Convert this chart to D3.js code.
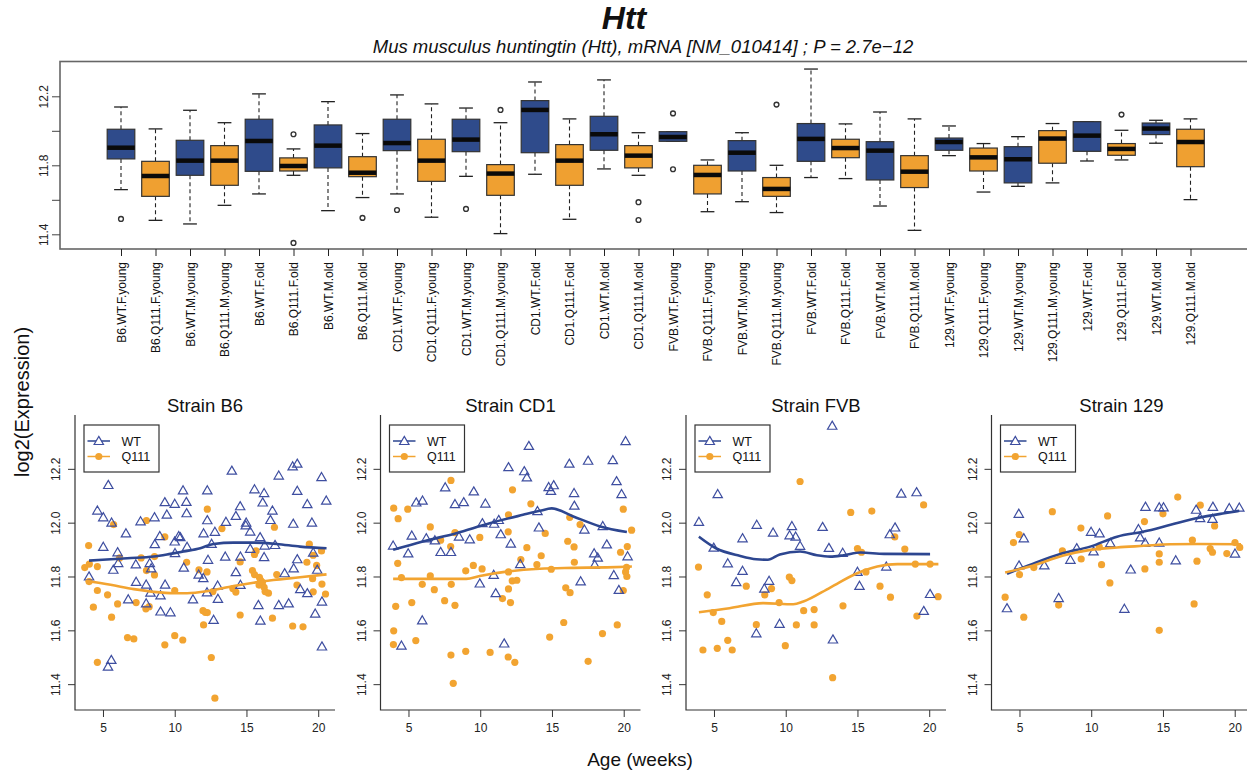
<!DOCTYPE html>
<html>
<head>
<meta charset="utf-8">
<script src="https://cdn.jsdelivr.net/npm/d3@7"></script>
<style>
  body { margin: 0; background: #fff; }
  svg { display: block; font-family: "Liberation Sans", Arial, Helvetica, sans-serif; }
</style>
</head>
<body>
<svg id="chart" width="1247" height="777"></svg>
<script>
// ---------- Box plot groups (strain.genotype.sex.age) ----------
const groups = [
  "B6.WT.F.young","B6.Q111.F.young","B6.WT.M.young","B6.Q111.M.young",
  "B6.WT.F.old","B6.Q111.F.old","B6.WT.M.old","B6.Q111.M.old",
  "CD1.WT.F.young","CD1.Q111.F.young","CD1.WT.M.young","CD1.Q111.M.young",
  "CD1.WT.F.old","CD1.Q111.F.old","CD1.WT.M.old","CD1.Q111.M.old",
  "FVB.WT.F.young","FVB.Q111.F.young","FVB.WT.M.young","FVB.Q111.M.young",
  "FVB.WT.F.old","FVB.Q111.F.old","FVB.WT.M.old","FVB.Q111.M.old",
  "129.WT.F.young","129.Q111.F.young","129.WT.M.young","129.Q111.M.young",
  "129.WT.F.old","129.Q111.F.old","129.WT.M.old","129.Q111.M.old"
];
const boxHigh = [12.138,12.011,12.119,12.047,12.214,11.895,12.169,11.984,
                 12.208,12.156,12.132,12.047,12.283,12.069,12.295,11.989,
                 11.995,11.831,11.989,11.800,12.358,12.040,12.109,12.069,
                 12.028,11.926,11.966,12.042,12.053,12.003,12.061,12.069];
const boxQ3   = [12.009,11.823,11.945,11.914,12.067,11.843,12.034,11.850,
                 12.067,11.951,12.067,11.804,12.175,11.920,12.084,11.914,
                 11.995,11.800,11.943,11.729,12.042,11.951,11.937,11.856,
                 11.958,11.900,11.908,12.001,12.053,11.926,12.045,12.009];
const boxMed  = [11.902,11.738,11.827,11.827,11.941,11.796,11.914,11.757,
                 11.929,11.827,11.949,11.752,12.121,11.827,11.980,11.856,
                 11.964,11.744,11.873,11.663,11.953,11.900,11.885,11.763,
                 11.935,11.846,11.835,11.955,11.972,11.895,12.013,11.935];
const boxQ1   = [11.837,11.620,11.742,11.684,11.765,11.767,11.785,11.734,
                 11.885,11.707,11.879,11.626,11.873,11.684,11.887,11.785,
                 11.939,11.634,11.767,11.620,11.823,11.844,11.715,11.671,
                 11.887,11.767,11.698,11.812,11.881,11.858,11.978,11.792];
const boxLow  = [11.659,11.481,11.460,11.568,11.634,11.742,11.537,11.613,
                 11.634,11.499,11.736,11.404,11.748,11.487,11.779,11.742,
                 11.939,11.531,11.589,11.526,11.729,11.723,11.564,11.423,
                 11.856,11.645,11.678,11.698,11.825,11.831,11.928,11.601];
const boxOut  = [[11.489],[],[],[],[],[11.980,11.350],[],[11.495],
                 [11.541],[],[11.547],[12.121],[],[],[],[11.586,11.483],
                 [12.101,11.777],[],[],[12.152],[],[],[],[],
                 [],[],[],[],[],[12.094],[],[]];

// ---------- Expression vs age, one panel per strain: [age (weeks), log2 expression] ----------
const strains = ["B6", "CD1", "FVB", "129"];

const b6WT = [[5.37,12.14],[4.61,12.045],[5.02,12.02],[5.60,12.00],[5.02,11.91],[4.03,11.80],[6.02,11.89],
  [5.72,11.825],[6.06,11.85],[6.60,11.96],[5.58,11.49],[5.35,11.465],[6.76,11.715],[7.31,11.78],[7.29,11.845],
  [7.62,12.005],[8.01,11.77],[8.01,11.70],[8.31,11.74],[8.26,11.85],[8.36,11.83],[8.61,11.92],[8.59,12.02],
  [8.96,11.95],[9.01,11.67],[9.31,12.076],[9.45,12.03],[9.33,11.77],[10.0,12.07],[10.0,11.93],[10.02,11.887],
  [10.28,11.95],[10.39,11.946],[10.58,12.12],[10.81,12.077],[10.83,12.035],[10.86,11.91],[10.63,11.833],
  [9.70,11.667],[9.01,11.73],[11.27,11.715],[11.67,11.807],[11.99,11.794],[12.01,11.96],[12.27,12.12],
  [12.27,12.009],[12.32,11.862],[12.25,11.741],[12.80,11.966],[12.57,11.921],[12.71,11.639],[12.99,11.766],
  [13.01,11.717],[13.57,12.003],[13.52,11.874],[13.98,12.193],[14.26,12.025],[14.56,12.061],[14.58,11.874],
  [14.26,11.816],[14.58,11.769],[14.98,12.00],[14.95,11.99],[15.26,11.967],[15.26,11.903],[15.56,12.124],
  [15.95,11.946],[16.13,12.075],[16.23,12.11],[16.27,11.915],[16.23,11.872],[15.83,11.694],[15.97,11.636],
  [16.67,12.01],[16.81,12.045],[16.99,11.917],[17.25,12.175],[17.25,11.694],[17.66,11.812],[17.94,11.70],
  [18.22,12.209],[18.54,12.219],[18.26,11.996],[18.54,12.118],[18.54,11.864],[18.29,11.83],[18.75,11.753],
  [19.24,12.069],[19.24,11.738],[19.56,12.00],[19.65,11.889],[19.79,11.662],[20.23,12.169],[20.56,12.082],
  [19.93,11.825],[20.26,11.707],[20.26,11.54]];
const b6Q111 = [[4.0,11.915],[3.73,11.833],[4.05,11.846],[4.03,11.781],[4.61,11.748],[4.61,11.837],[4.33,11.686],
  [5.32,11.732],[5.60,11.649],[6.02,11.698],[4.61,11.481],[5.74,11.993],[6.16,11.869],[6.71,11.573],[7.15,11.568],
  [7.31,11.703],[7.66,11.869],[8.03,12.008],[8.03,11.822],[8.59,11.874],[8.59,11.806],[7.99,11.68],[8.22,11.688],
  [9.31,11.947],[9.31,11.546],[10.0,11.748],[10.0,11.58],[10.56,11.564],[10.83,11.853],[11.69,11.825],
  [12.27,12.05],[12.25,11.817],[11.97,11.673],[12.13,11.667],[12.01,11.62],[12.27,11.666],[12.55,11.499],
  [12.8,11.348],[12.66,11.744],[13.29,11.978],[14.26,11.742],[14.05,11.755],[14.56,11.854],[14.56,11.657],
  [15.42,11.822],[15.56,11.882],[15.67,11.895],[15.56,11.807],[15.90,11.797],[15.97,11.787],[16.11,11.778],
  [15.88,11.768],[16.23,11.76],[16.30,11.744],[16.53,11.738],[16.04,11.781],[16.95,11.983],[17.11,11.807],
  [16.81,11.645],[18.22,11.616],[18.52,11.768],[18.94,11.613],[19.21,11.853],[19.38,11.92],[19.65,11.879],
  [19.89,11.841],[20.23,11.895],[19.65,11.743],[19.61,11.792],[20.26,11.772],[20.51,11.735]];

const cd1WT = [[3.93,11.915],[4.51,11.543],[4.98,11.886],[5.23,11.952],[5.54,12.075],[5.98,12.082],[5.96,11.637],
  [6.24,11.942],[6.84,11.934],[7.24,11.891],[7.96,11.891],[7.56,12.131],[8.24,12.069],[8.52,11.948],[8.85,12.076],
  [9.27,11.938],[9.55,12.116],[9.97,11.774],[10.15,11.998],[10.36,12.071],[10.97,11.996],[10.94,11.806],
  [11.08,11.738],[11.29,12.01],[11.43,11.957],[11.67,11.551],[11.97,12.206],[12.13,11.922],[12.79,11.846],
  [13.07,12.191],[13.25,12.168],[13.39,12.285],[13.99,12.043],[14.09,11.982],[14.77,12.132],[14.93,12.118],
  [15.12,12.139],[16.21,12.219],[16.54,12.11],[16.56,12.063],[17.0,11.782],[17.26,11.974],[17.52,12.23],
  [17.94,11.886],[18.19,11.87],[17.98,11.843],[18.54,11.987],[18.82,11.919],[19.24,12.232],[19.50,12.154],
  [19.85,12.106],[19.31,11.805],[19.66,11.75],[20.13,12.303],[20.27,11.875]];
const cd1Q111 = [[3.97,12.054],[4.28,12.015],[4.25,11.849],[3.97,11.598],[3.95,11.547],[4.11,11.689],[4.51,11.796],
  [4.95,12.05],[5.23,11.703],[5.51,11.562],[5.96,11.771],[6.52,11.984],[6.52,11.802],[6.80,11.751],[7.24,11.935],
  [7.52,11.71],[7.96,12.157],[7.94,11.911],[7.98,11.771],[8.24,11.963],[8.24,11.693],[7.96,11.508],[8.12,11.403],
  [8.99,11.821],[8.99,11.522],[9.52,11.841],[9.97,11.945],[10.13,11.828],[10.69,11.518],[11.55,11.718],
  [11.97,12.029],[11.95,11.966],[11.97,11.817],[11.97,11.754],[12.11,11.703],[12.23,11.784],[12.55,11.786],
  [12.25,12.122],[11.95,11.501],[12.41,11.481],[12.83,11.863],[13.25,11.907],[13.53,12.07],[13.95,11.844],
  [14.25,11.877],[14.53,11.96],[14.84,11.575],[14.95,11.827],[15.82,11.629],[15.96,11.758],[16.10,11.931],
  [16.26,11.74],[16.24,12.02],[16.54,11.91],[16.56,11.853],[16.96,11.993],[17.52,11.485],[18.52,11.588],
  [19.55,11.62],[19.78,11.89],[19.97,12.05],[19.97,11.748],[20.13,11.817],[20.20,11.834],[20.22,11.8],
  [20.25,11.911],[20.55,11.972]];

const fvbWT = [[3.95,12.003],[4.98,11.907],[5.26,12.106],[5.96,11.849],[6.55,11.779],[6.99,11.942],[6.99,11.821],
  [7.95,11.589],[7.98,11.992],[8.51,11.755],[8.84,11.784],[9.12,11.963],[9.57,11.624],[10.43,11.987],
  [10.27,11.953],[10.69,11.948],[11.0,11.914],[12.57,11.984],[13.01,11.906],[13.29,11.566],[13.24,12.36],
  [13.97,11.888],[15.0,11.817],[15.14,11.765],[17.01,11.837],[17.25,11.957],[17.62,11.982],[18.05,12.108],
  [19.12,12.113],[19.62,11.672],[20.06,11.735]];
const fvbQ111 = [[3.92,11.835],[4.23,11.527],[4.53,11.732],[4.95,11.666],[5.23,11.533],[5.54,11.633],[5.96,11.563],
  [6.27,11.527],[7.25,11.764],[7.95,11.621],[8.54,11.732],[9.01,11.755],[9.54,11.703],[9.97,11.543],
  [10.25,11.798],[10.43,11.785],[10.74,11.62],[11.0,12.153],[11.25,11.673],[11.98,11.677],[11.98,11.62],
  [13.27,11.424],[13.99,11.691],[14.53,12.038],[15.0,11.904],[15.28,11.89],[15.59,11.817],[16.0,12.043],
  [16.57,11.764],[17.3,11.723],[17.6,11.947],[18.3,11.902],[19.03,11.846],[19.14,11.653],[19.61,12.066],
  [20.06,11.846],[20.62,11.725]];

const s129WT = [[4.13,11.682],[4.95,12.033],[4.97,11.841],[5.30,11.942],[6.73,11.841],[7.73,11.72],[8.55,11.862],
  [8.99,11.905],[9.99,11.966],[10.16,11.893],[10.58,11.96],[11.33,11.924],[12.31,11.68],[12.75,11.826],
  [13.29,11.976],[13.41,11.945],[13.76,11.925],[13.78,12.059],[14.74,11.926],[14.74,12.057],[15.04,12.057],
  [15.89,11.86],[17.31,12.048],[17.59,12.017],[18.48,12.059],[18.45,12.014],[19.62,12.054],[20.32,12.056],
  [20.02,11.885]];
const s129Q111 = [[4.0,11.723],[4.58,11.926],[4.98,11.956],[5.0,11.807],[5.30,11.649],[6.0,11.833],[7.29,12.041],
  [7.73,11.694],[7.99,11.895],[9.28,11.98],[9.30,11.865],[10.56,11.91],[10.72,11.844],[11.14,12.025],
  [11.30,11.776],[13.71,12.004],[13.74,11.828],[14.74,11.884],[14.74,11.853],[14.74,11.6],[15.0,12.033],
  [16.03,12.095],[17.05,11.935],[17.17,11.698],[17.37,11.857],[17.6,12.065],[18.29,11.904],[18.45,11.89],
  [18.6,11.988],[19.45,11.885],[20.02,11.926],[20.35,11.908]];

// smoothed (loess) trend curves per strain and genotype
const b6WTfit   = [[4.03,11.859],[6.69,11.868],[8.54,11.874],[9.70,11.884],[10.63,11.893],[11.78,11.905],
  [12.71,11.921],[14.1,11.926],[15.49,11.926],[17.11,11.921],[18.73,11.911],[20.58,11.905]];
const b6Q111fit = [[3.80,11.784],[5.53,11.769],[7.15,11.753],[8.54,11.743],[9.93,11.738],[10.86,11.738],
  [12.25,11.745],[14.1,11.765],[15.49,11.777],[16.87,11.787],[18.73,11.797],[20.58,11.808]];
const cd1WTfit   = [[3.93,11.899],[6.0,11.93],[8.33,11.961],[10.66,11.998],[12.98,12.029],[14.16,12.044],
  [14.98,12.053],[16.49,12.023],[18.36,11.986],[20.22,11.965]];
const cd1Q111fit = [[3.93,11.791],[6.0,11.791],[9.03,11.791],[9.97,11.802],[11.83,11.818],[14.16,11.829],
  [16.49,11.832],[18.82,11.834],[20.57,11.837]];
const fvbWTfit   = [[3.95,11.948],[5.14,11.905],[6.78,11.877],[7.95,11.864],[8.75,11.862],[9.59,11.882],
  [11.0,11.893],[12.17,11.879],[13.1,11.874],[14.04,11.879],[15.21,11.889],[16.85,11.884],[20.06,11.883]];
const fvbQ111fit = [[3.95,11.667],[6.08,11.682],[8.42,11.701],[10.53,11.697],[11.23,11.707],[13.1,11.759],
  [14.98,11.812],[16.38,11.837],[17.79,11.846],[20.64,11.846]];
const s129WTfit   = [[4.13,11.81],[5.72,11.843],[8.06,11.887],[9.93,11.911],[11.8,11.948],[13.67,11.967],
  [15.53,11.992],[17.4,12.017],[19.27,12.035],[20.32,12.044]];
const s129Q111fit = [[4.0,11.815],[5.72,11.837],[8.06,11.878],[9.93,11.899],[11.8,11.908],[13.67,11.914],
  [15.53,11.92],[17.4,11.921],[20.44,11.92]];

const exprTicks = [11.4, 11.6, 11.8, 12.0, 12.2];
const ageTicks = [5, 10, 15, 20];

const panelData = [
  { wt: b6WT,   q: b6Q111,   wtFit: b6WTfit,   qFit: b6Q111fit },
  { wt: cd1WT,  q: cd1Q111,  wtFit: cd1WTfit,  qFit: cd1Q111fit },
  { wt: fvbWT,  q: fvbQ111,  wtFit: fvbWTfit,  qFit: fvbQ111fit },
  { wt: s129WT, q: s129Q111, wtFit: s129WTfit, qFit: s129Q111fit }
];

// ---------- colours ----------
const BOX_BLUE = "#2F4B8B";
const BOX_ORANGE = "#EFA031";
const PT_BLUE = "#3E4EA0";
const LINE_BLUE = "#2D4690";
const PT_ORANGE = "#F2A431";
const INK = "#222";

const svg = d3.select("#chart");

// ---------- titles ----------
svg.append("text")
  .attr("x", 624).attr("y", 29).attr("text-anchor", "middle")
  .style("font-size", "32px").style("font-weight", "bold").style("font-style", "italic")
  .attr("fill", "#111").text("Htt");
svg.append("text")
  .attr("x", 643).attr("y", 52.5).attr("text-anchor", "middle")
  .style("font-size", "18.5px").style("font-style", "italic")
  .attr("fill", "#111").text("Mus musculus huntingtin (Htt), mRNA [NM_010414] ; P = 2.7e\u221212");

// ---------- box plot ----------
const xTop = d3.scaleLinear().domain([0, groups.length - 1]).range([121, 1190.5]);
const yTop = d3.scaleLinear().domain([11.4, 12.2]).range([234.3, 96.3]);
const step = xTop(1) - xTop(0);
const boxW = step * 0.8;

svg.append("rect")
  .attr("x", 60).attr("y", 61.5).attr("width", 1192).attr("height", 187.5)
  .attr("fill", "none").attr("stroke", "#666").attr("stroke-width", 1.6);

const gyTop = svg.append("g").attr("transform", "translate(60,0)")
  .call(d3.axisLeft(yTop).tickValues(exprTicks).tickSize(8)
    .tickFormat(d => (Math.abs(d - 11.6) < 1e-9 || Math.abs(d - 12.0) < 1e-9) ? "" : d3.format(".1f")(d)));
gyTop.select(".domain").remove();
gyTop.selectAll(".tick line").attr("stroke", "#444");
gyTop.selectAll(".tick text")
  .attr("x", null).attr("dy", null)
  .attr("transform", "translate(-12,0) rotate(-90)")
  .attr("text-anchor", "middle")
  .style("font-size", "12px").attr("fill", INK);

const gxTop = svg.append("g").attr("transform", "translate(0,249)")
  .call(d3.axisBottom(xTop).tickValues(d3.range(groups.length)).tickSize(7).tickFormat(i => groups[i]));
gxTop.select(".domain").remove();
gxTop.selectAll(".tick line").attr("stroke", "#222");
gxTop.selectAll(".tick text")
  .attr("y", null).attr("dy", null)
  .attr("transform", "translate(0,13) rotate(-90)")
  .attr("text-anchor", "end").attr("dominant-baseline", "central")
  .style("font-size", "12px").attr("fill", "#111");

const boxes = svg.append("g").selectAll("g").data(groups).join("g")
  .attr("transform", (d, i) => `translate(${xTop(i)},0)`);

boxes.each(function (name, i) {
  const g = d3.select(this);
  const fill = name.includes(".WT.") ? BOX_BLUE : BOX_ORANGE;
  // whiskers
  g.append("line").attr("x1", 0).attr("x2", 0)
    .attr("y1", yTop(boxQ3[i])).attr("y2", yTop(boxHigh[i]))
    .attr("stroke", "#222").attr("stroke-width", 1.1).attr("stroke-dasharray", "4,3");
  g.append("line").attr("x1", 0).attr("x2", 0)
    .attr("y1", yTop(boxQ1[i])).attr("y2", yTop(boxLow[i]))
    .attr("stroke", "#222").attr("stroke-width", 1.1).attr("stroke-dasharray", "4,3");
  [boxHigh[i], boxLow[i]].forEach(v => {
    g.append("line").attr("x1", -boxW / 4).attr("x2", boxW / 4)
      .attr("y1", yTop(v)).attr("y2", yTop(v))
      .attr("stroke", "#222").attr("stroke-width", 1.3);
  });
  // box
  g.append("rect")
    .attr("x", -boxW / 2).attr("width", boxW)
    .attr("y", yTop(boxQ3[i])).attr("height", Math.max(0.5, yTop(boxQ1[i]) - yTop(boxQ3[i])))
    .attr("fill", fill).attr("stroke", "#333").attr("stroke-width", 1.2);
  // median
  g.append("line").attr("x1", -boxW / 2).attr("x2", boxW / 2)
    .attr("y1", yTop(boxMed[i])).attr("y2", yTop(boxMed[i]))
    .attr("stroke", "#0a0a0a").attr("stroke-width", 4.5);
  // outliers
  boxOut[i].forEach(v => {
    g.append("circle").attr("cx", 0).attr("cy", yTop(v)).attr("r", 2.4)
      .attr("fill", "none").attr("stroke", "#333").attr("stroke-width", 1.4);
  });
});

// ---------- strain panels ----------
const panelW = 260, panelTop = 415, panelBottom = 710;
const triangle = d3.symbol().type(d3.symbolTriangle).size(38);

panelData.forEach((pd, s) => {
  const left = 75 + s * 305.5;
  const x = d3.scaleLinear().domain([3.05, 21.17]).range([left, left + panelW]);
  const y = d3.scaleLinear().domain([11.304, 12.40]).range([panelBottom, panelTop]);
  const g = svg.append("g");

  // L-shaped frame
  g.append("path")
    .attr("d", `M${left},${panelTop}V${panelBottom}H${left + panelW}`)
    .attr("fill", "none").attr("stroke", "#333").attr("stroke-width", 1.2);

  const gx = g.append("g").attr("transform", `translate(0,${panelBottom})`)
    .call(d3.axisBottom(x).tickValues(ageTicks).tickSize(7).tickPadding(6));
  gx.select(".domain").remove();
  gx.selectAll(".tick line").attr("stroke", "#333");
  gx.selectAll(".tick text").style("font-size", "12px").attr("fill", INK);

  const gy = g.append("g").attr("transform", `translate(${left},0)`)
    .call(d3.axisLeft(y).tickValues(exprTicks).tickSize(7).tickFormat(d3.format(".1f")));
  gy.select(".domain").remove();
  gy.selectAll(".tick line").attr("stroke", "#333");
  gy.selectAll(".tick text")
    .attr("x", null).attr("dy", null)
    .attr("transform", "translate(-15,0) rotate(-90)")
    .attr("text-anchor", "middle")
    .style("font-size", "12px").attr("fill", INK);

  // panel title
  g.append("text").attr("x", left + panelW / 2).attr("y", 412)
    .attr("text-anchor", "middle").style("font-size", "18.5px").attr("fill", "#111")
    .text("Strain " + strains[s]);

  // points
  g.append("g").selectAll("circle").data(pd.q).join("circle")
    .attr("cx", d => x(d[0])).attr("cy", d => y(d[1])).attr("r", 3.6)
    .attr("fill", PT_ORANGE);
  g.append("g").selectAll("path").data(pd.wt).join("path")
    .attr("d", triangle)
    .attr("transform", d => `translate(${x(d[0])},${y(d[1]) + 0.8})`)
    .attr("fill", "none").attr("stroke", PT_BLUE).attr("stroke-width", 1.2);

  // trend curves
  const line = d3.line().x(d => x(d[0])).y(d => y(d[1])).curve(d3.curveMonotoneX);
  g.append("path").datum(pd.wtFit).attr("d", line)
    .attr("fill", "none").attr("stroke", LINE_BLUE).attr("stroke-width", 2.6);
  g.append("path").datum(pd.qFit).attr("d", line)
    .attr("fill", "none").attr("stroke", PT_ORANGE).attr("stroke-width", 2.6);

  // legend
  const lg = g.append("g").attr("transform", `translate(${left + 9},425)`);
  lg.append("rect").attr("width", 75).attr("height", 47)
    .attr("fill", "#fff").attr("stroke", "#333").attr("stroke-width", 1.2);
  const items = [
    { label: "WT", color: PT_BLUE, lineColor: LINE_BLUE, cy: 16, tri: true },
    { label: "Q111", color: PT_ORANGE, lineColor: PT_ORANGE, cy: 31.5, tri: false }
  ];
  items.forEach(it => {
    lg.append("line").attr("x1", 3.5).attr("x2", 26).attr("y1", it.cy).attr("y2", it.cy)
      .attr("stroke", it.lineColor).attr("stroke-width", 1.5);
    if (it.tri) {
      lg.append("path").attr("d", triangle).attr("transform", `translate(14.8,${it.cy + 0.8})`)
        .attr("fill", "#fff").attr("stroke", it.color).attr("stroke-width", 1.2);
    } else {
      lg.append("circle").attr("cx", 14.8).attr("cy", it.cy).attr("r", 3.6).attr("fill", it.color);
    }
    lg.append("text").attr("x", 37.5).attr("y", it.cy + 4.5)
      .style("font-size", "12.5px").attr("fill", "#111").text(it.label);
  });
});

// ---------- shared axis titles ----------
svg.append("text")
  .attr("transform", "translate(29,402) rotate(-90)")
  .attr("text-anchor", "middle").style("font-size", "20px").attr("fill", "#111")
  .text("log2(Expression)");
svg.append("text")
  .attr("x", 640).attr("y", 766).attr("text-anchor", "middle")
  .style("font-size", "19px").attr("fill", "#111")
  .text("Age (weeks)");
</script>
</body>
</html>
